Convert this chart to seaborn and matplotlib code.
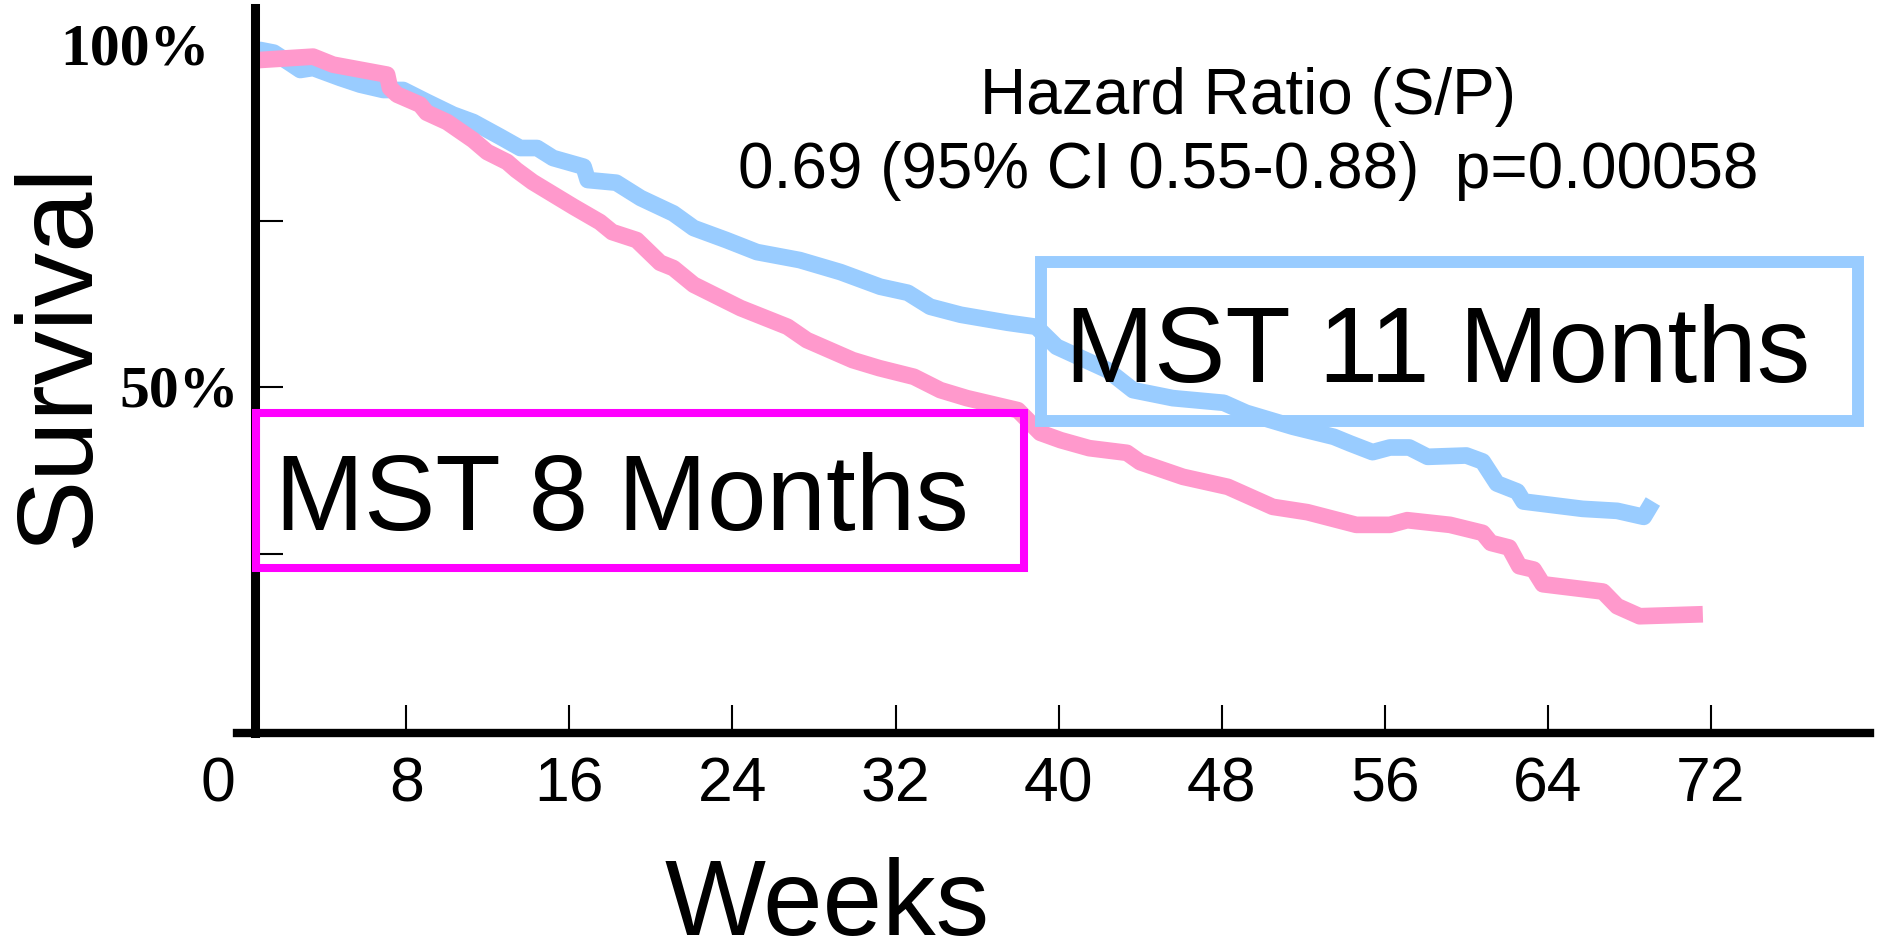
import numpy as np
import pandas as pd
import matplotlib
matplotlib.use("Agg")
import matplotlib.pyplot as plt
from matplotlib.patches import Rectangle
import seaborn as sns

# survival curves (weeks, % surviving)
weeks_S = [0.6, 0.83, 1.5, 2.31, 2.8, 3.43, 4.76, 5.74, 6.87, 7.85, 9.02, 10.3, 11.28, 12.6,
           13.59, 14.42, 15.2, 16.7, 16.9, 18.3, 19.5, 21.1, 22.1, 23.7, 25.2, 27.3, 29.3,
           31.25, 32.6, 33.7, 35.2, 37.5, 38.9, 39.9, 42.4, 43.65, 45.6, 48.1, 49.2, 51.5,
           53.5, 54.3, 55.4, 56.25, 57.2, 58.1, 60.0, 60.8, 61.5, 62.5, 62.8, 65.7, 67.4,
           68.7, 69.15]
surv_S = [100.4, 100.6, 100.2, 98.6, 97.6, 97.9, 96.4, 95.4, 94.6, 94.6, 92.8, 90.9, 89.8, 87.6,
          85.9, 85.9, 84.4, 83.1, 81.1, 80.7, 78.4, 76.1, 73.9, 72.1, 70.3, 69.1, 67.3,
          65.1, 64.2, 62.1, 60.9, 59.7, 59.1, 56.1, 52.6, 49.6, 48.4, 47.7, 46.2, 44.1,
          42.6, 41.6, 40.3, 41.0, 41.0, 39.6, 39.8, 38.9, 35.6, 34.4, 32.9, 31.8, 31.5,
          30.6, 32.9]

weeks_P = [0.6, 0.83, 3.43, 4.41, 7.06, 7.2, 7.55, 8.68, 9.0, 10.0, 11.28, 11.97, 12.95, 13.4,
           14.2, 16.2, 17.5, 18.1, 19.3, 20.45, 21.1, 22.1, 24.4, 26.7, 27.65, 29.9, 31.2,
           32.9, 34.2, 35.5, 38.0, 39.1, 40.1, 41.5, 43.35, 44.0, 46.1, 48.3, 50.5, 52.2,
           54.6, 56.25, 57.1, 59.2, 60.8, 61.2, 62.1, 62.6, 63.3, 63.75, 66.7, 67.4, 68.5,
           71.6]
surv_P = [99.0, 99.1, 99.6, 98.4, 96.9, 94.9, 93.9, 92.4, 91.2, 89.8, 87.1, 85.3, 83.8, 82.6,
          80.8, 77.1, 74.8, 73.3, 72.1, 68.7, 67.9, 65.4, 61.9, 59.1, 57.1, 54.1, 52.9,
          51.6, 49.6, 48.4, 46.6, 43.2, 42.1, 40.9, 40.2, 38.8, 36.6, 35.1, 32.1, 31.3,
          29.4, 29.4, 30.1, 29.4, 28.2, 26.7, 26.0, 23.2, 22.7, 20.5, 19.4, 17.2, 15.7,
          16.0]

xtick_vals = [8, 16, 24, 32, 40, 48, 56, 64, 72]
ytick_vals = [25, 50, 75, 100]

hr_title = "Hazard Ratio (S/P)"
hr_text = "0.69 (95% CI 0.55-0.88)  p=0.00058"

blue = "#99CCFF"
pink = "#FF99CC"
magenta = "#FF00FF"

df = pd.concat([
    pd.DataFrame({"week": weeks_S, "surv": surv_S, "arm": "S"}),
    pd.DataFrame({"week": weeks_P, "surv": surv_P, "arm": "P"}),
])

sns.set_theme(style="white")
plt.rcParams["font.family"] = ["Liberation Sans", "DejaVu Sans"]
plt.rcParams["text.color"] = "black"
plt.rcParams["xtick.color"] = "black"
plt.rcParams["ytick.color"] = "black"

fig = plt.figure(figsize=(18.83, 9.46), dpi=100)
ax = fig.add_axes([0.1259, 0.2252, 0.8672, 0.7664])

sns.lineplot(data=df, x="week", y="surv", hue="arm", palette={"S": blue, "P": pink},
             hue_order=["S", "P"], estimator=None, sort=False,
             legend=False, ax=ax)
for ln in ax.lines:
    ln.set_linewidth(12)
    ln.set_solid_joinstyle("round")
    ln.set_solid_capstyle("butt")

ax.set_xlim(-0.3, 79.8)
ax.set_ylim(-1.8, 106.9)

for s in ["top", "right"]:
    ax.spines[s].set_visible(False)
ax.spines["left"].set_position(("data", 0.6))
ax.spines["left"].set_linewidth(6.5)
ax.spines["bottom"].set_linewidth(6.0)
ax.spines["left"].set_color("black")
ax.spines["bottom"].set_color("black")

ax.set_xticks(xtick_vals)
ax.set_xticklabels([str(v) for v in xtick_vals])
ax.set_yticks(ytick_vals)
ax.set_yticklabels([])
ax.tick_params(axis="x", direction="in", length=20, width=1.5, color="black",
               labelcolor="black", labelsize=45, pad=16, bottom=True)
ax.tick_params(axis="y", direction="in", length=20, width=1.5, color="black",
               left=True)
ax.set_xlabel("")
ax.set_ylabel("")

# lone "0" sits left of the y axis
ax.annotate("0", xy=(-1.25, 0), xycoords=("data", "axes fraction"),
            xytext=(0, -16), textcoords="offset points", ha="center", va="top",
            fontsize=45, color="black", annotation_clip=False)

serif = ["Liberation Serif", "DejaVu Serif"]
ax.text(-1.67, 98.35, "100%", ha="right", va="baseline", fontsize=43,
        fontweight="bold", family=serif, color="black", clip_on=False)
ax.text(-0.2, 47.1, "50%", ha="right", va="baseline", fontsize=43,
        fontweight="bold", family=serif, color="black", clip_on=False)

# boxes
ax.add_patch(Rectangle((39.14, 45.0), 79.2 - 39.14, 68.8 - 45.0, fill=False,
                       edgecolor=blue, linewidth=8.6, clip_on=False, zorder=3))
ax.add_patch(Rectangle((0.61, 22.9), 38.3 - 0.61, 46.2 - 22.9, fill=False,
                       edgecolor=magenta, linewidth=5.8, clip_on=False, zorder=3))

ax.text(40.3, 50.8, "MST 11 Months", ha="left", va="baseline", fontsize=77,
        color="black", zorder=4)
ax.text(1.57, 28.6, "MST 8 Months", ha="left", va="baseline", fontsize=77,
        color="black", zorder=4)

ax.text(49.3, 91.0, hr_title, ha="center", va="baseline", fontsize=46, color="black")
ax.text(49.3, 79.9, hr_text, ha="center", va="baseline", fontsize=46, color="black")

fig.text(0.032, 0.6247, "Survival", rotation=90, ha="center", va="center",
         fontsize=78, color="black")
fig.text(0.4392, 0.012, "Weeks", ha="center", va="baseline", fontsize=77, color="black")

fig.savefig("out.png", dpi=100, facecolor="white")
